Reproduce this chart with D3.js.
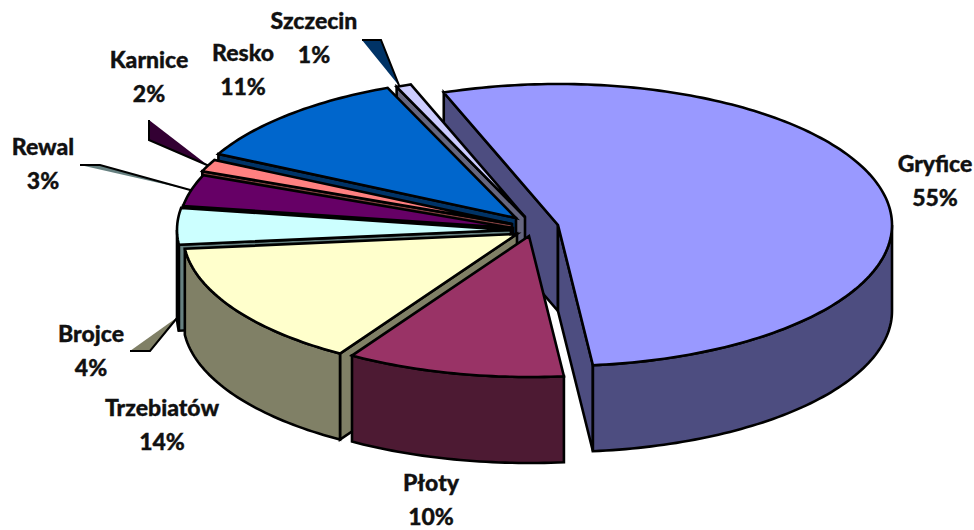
<!DOCTYPE html>
<html>
<head>
<meta charset="utf-8">
<script src="https://cdn.jsdelivr.net/npm/d3@7"></script>
<style>
html,body{margin:0;padding:0;background:#fff;overflow:hidden}
svg{display:block}
text{font-family:Lato,"Open Sans",sans-serif;font-weight:900;font-size:23px;fill:#111;stroke:#111;stroke-width:.35;text-anchor:middle}
</style>
</head>
<body>
<svg id="c" width="974" height="530"></svg>
<script>
// data
const categories = ["Gryfice","Płoty","Trzebiatów","Brojce","Rewal","Karnice","Resko","Szczecin"];
const shares = [55,10,14,4,3,2,11,1];

// style and layout
const topColors  = ["#9999FF","#993366","#FFFFCC","#CCFFFF","#660066","#FF8080","#0066CC","#CCCCFF"];
const wallColors = ["#4D4D80","#4D1A33","#808066","#668080","#330033","#804040","#003366","#666680"];
const apexes = [[558,225],[529,236],[517,234],[511,230],[513,228],[512,224],[516,218],[525,217]];
const labelPos = [[935,172],[431,491],[162,416],[91,342],[43,155],[149,68],[243,61],[314,29]];
const lineGap = 34;
const paintOrder = [0,7,6,5,4,3,2,1];
const rx = 334, ry = 141, depth = 86;
// perspective foreshortening of the pie angles, in degrees
const warp = d3.scaleLinear()
  .domain([-20,178,214,264.4,278.8,289.6,296.8,336.4,340])
  .range ([-20,174,212,264,279,292,297,337.4,340]);
// leader: slice index, start, elbow, position on the rim (fraction of slice), drop (fraction of depth)
const leaders = [
  {i:7, start:[362,40],  elbow:[381,40],  along:0.2, drop:0,    fill:"#003366"},
  {i:5, start:[149,120], elbow:[149,140], along:0.5, drop:0,    fill:"#330033"},
  {i:4, start:[80,165],  elbow:[100,165], along:0.5, drop:0,    fill:"#668080"},
  {i:3, start:[130,351], elbow:[150,351], along:0.1, drop:0.88, fill:"#808066"}
];

const svg = d3.select("#c");
const rad = Math.PI/180;
const pie = d3.pie().sort(null).value(d=>d)
  .startAngle(-20*rad).endAngle(340*rad);
const arcs = pie(shares).map(a=>({
  startAngle: warp(a.startAngle/rad)*rad,
  endAngle: warp(a.endAngle/rad)*rad
}));
const line = d3.line();

function rim(i,t,drop){
  const [ax,ay]=apexes[i];
  return [ax+rx*Math.sin(t), ay-ry*Math.cos(t)+(drop||0)];
}
function sample(i,t0,t1,drop){
  const n=Math.max(2,Math.ceil(Math.abs(t1-t0)/0.02));
  return d3.range(n+1).map(k=>rim(i,t0+(t1-t0)*k/n,drop));
}
const down = (p)=>[p[0],p[1]+depth];

function shape(g,pts,fill){
  g.append("path").attr("d",line(pts)+"Z").attr("fill",fill)
    .attr("stroke","#000").attr("stroke-width",2.6).attr("stroke-linejoin","miter");
}

paintOrder.forEach(i=>{
  const a=arcs[i], g=svg.append("g").attr("class","slice");
  const t0=a.startAngle, t1=a.endAngle, A=apexes[i];
  const wall=wallColors[i];
  // cut faces, only those turned toward the viewer
  if(Math.sin(t0)<0){ const r=rim(i,t0); shape(g,[A,r,down(r),down(A)],wall); }
  if(Math.sin(t1)>0){ const r=rim(i,t1); shape(g,[A,r,down(r),down(A)],wall); }
  // outer wall (only the part that faces the viewer)
  const lo=Math.max(t0,Math.PI/2), hi=Math.min(t1,3*Math.PI/2);
  if(hi>lo){
    const upper=sample(i,lo,hi), lower=upper.map(down).reverse();
    shape(g,upper.concat(lower),wall);
  }
  // top face
  shape(g,[A].concat(sample(i,t0,t1)),topColors[i]);
});

leaders.forEach(l=>{
  const a=arcs[l.i];
  const tip=rim(l.i,a.startAngle+(a.endAngle-a.startAngle)*l.along,l.drop*depth);
  const g=svg.append("g").attr("class","leader");
  g.append("path").attr("d",line([l.start,l.elbow,tip])+"Z").attr("fill",l.fill).attr("stroke","none");
  g.append("path").attr("d",line([l.start,l.elbow,tip])).attr("fill","none")
    .attr("stroke","#000").attr("stroke-width",2);
});

categories.forEach((c,i)=>{
  const [x,y]=labelPos[i];
  svg.append("text").attr("x",x).attr("y",y).text(c);
  svg.append("text").attr("x",x).attr("y",y+lineGap).text(shares[i]+"%");
});
</script>
</body>
</html>
